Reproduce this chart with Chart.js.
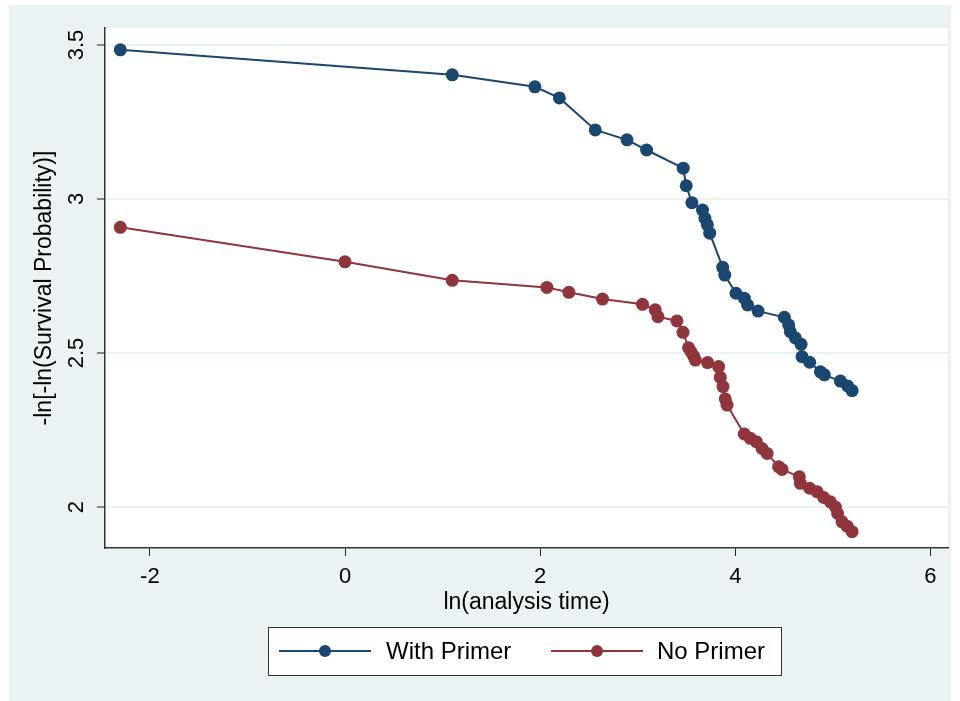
<!DOCTYPE html>
<html>
<head>
<meta charset="utf-8">
<script src="https://cdn.jsdelivr.net/npm/chart.js@4"></script>
<style>
  html, body { margin: 0; padding: 0; background: #fff; }
  #wrap { width: 960px; height: 701px; }
</style>
</head>
<body>
<div id="wrap"><canvas id="chart" width="960" height="701"></canvas></div>
<script>
// ln(analysis time) vs -ln[-ln(S)]
const primerX = [-2.303, 1.099, 1.946, 2.197, 2.565, 2.890, 3.091, 3.466, 3.497, 3.555,
                 3.664, 3.689, 3.714, 3.738, 3.871, 3.892, 4.007, 4.092, 4.126, 4.233,
                 4.503, 4.547, 4.564, 4.615, 4.674, 4.684, 4.762, 4.872, 4.913, 5.077,
                 5.151, 5.197];
const primerY = [3.484, 3.403, 3.364, 3.328, 3.224, 3.192, 3.159, 3.100, 3.043, 2.988,
                 2.964, 2.937, 2.916, 2.889, 2.778, 2.753, 2.694, 2.678, 2.656, 2.636,
                 2.616, 2.591, 2.569, 2.549, 2.528, 2.488, 2.470, 2.439, 2.429, 2.409,
                 2.393, 2.378];

const noPrimerX = [-2.303, 0.000, 1.099, 2.069, 2.294, 2.639, 3.049, 3.179, 3.207, 3.402,
                   3.464, 3.521, 3.546, 3.572, 3.590, 3.716, 3.829, 3.846, 3.874, 3.897,
                   3.915, 4.092, 4.154, 4.215, 4.274, 4.326, 4.444, 4.479, 4.656, 4.667,
                   4.762, 4.838, 4.906, 4.974, 5.026, 5.049, 5.094, 5.146, 5.197];
const noPrimerY = [2.908, 2.796, 2.736, 2.713, 2.697, 2.675, 2.658, 2.640, 2.618, 2.604,
                   2.567, 2.517, 2.504, 2.490, 2.477, 2.469, 2.456, 2.421, 2.391, 2.351,
                   2.331, 2.237, 2.223, 2.212, 2.190, 2.174, 2.131, 2.122, 2.098, 2.077,
                   2.061, 2.050, 2.031, 2.017, 2.000, 1.979, 1.952, 1.938, 1.920];

const seriesLabels = ['With Primer', 'No Primer'];
const xTickValues = [-2, 0, 2, 4, 6];
const yTickValues = [2, 2.5, 3, 3.5];

const FONT = '"Liberation Sans", Arial, Helvetica, sans-serif';
const BLUE = '#1A476F';
const RED = '#90353B';

function toPoints(xs, ys) {
    return xs.map((x, i) => ({ x: x, y: ys[i] }));
}

// background: outer band + white plot region
const backgroundPlugin = {
    id: 'stataBackground',
    beforeDraw(chart) {
        const ctx = chart.ctx;
        const a = chart.chartArea;
        ctx.save();
        ctx.fillStyle = '#ffffff';
        ctx.fillRect(0, 0, chart.width, chart.height);
        ctx.fillStyle = '#EAF2F3';
        ctx.fillRect(9, 5, chart.width - 18, chart.height - 5);
        ctx.fillStyle = '#ffffff';
        ctx.fillRect(a.left, a.top, a.right - a.left, a.bottom - a.top);
        ctx.restore();
    }
};

// rotated y tick labels + boxed legend
const extrasPlugin = {
    id: 'stataExtras',
    afterDraw(chart) {
        const ctx = chart.ctx;
        const yScale = chart.scales.y;
        ctx.save();
        ctx.fillStyle = '#000';
        ctx.font = '22px ' + FONT;
        ctx.textAlign = 'center';
        ctx.textBaseline = 'middle';
        yScale.ticks.forEach(t => {
            const py = yScale.getPixelForValue(t.value);
            ctx.save();
            ctx.translate(77, py);
            ctx.rotate(-Math.PI / 2);
            ctx.fillText(String(t.value), 0, 0);
            ctx.restore();
        });

        // legend box
        const box = { left: 268, top: 627, right: 781, bottom: 675 };
        ctx.fillStyle = '#fff';
        ctx.fillRect(box.left, box.top, box.right - box.left, box.bottom - box.top);
        ctx.strokeStyle = '#333';
        ctx.lineWidth = 1;
        ctx.strokeRect(box.left + 0.5, box.top + 0.5, box.right - box.left, box.bottom - box.top);

        const cy = 651;
        const items = [
            { x0: 279, x1: 371, text: 386 },
            { x0: 551, x1: 643, text: 657 }
        ];
        chart.data.datasets.forEach((ds, i) => {
            const it = items[i];
            ctx.strokeStyle = ds.borderColor;
            ctx.lineWidth = 2;
            ctx.beginPath();
            ctx.moveTo(it.x0, cy);
            ctx.lineTo(it.x1, cy);
            ctx.stroke();
            ctx.fillStyle = ds.borderColor;
            ctx.beginPath();
            ctx.arc((it.x0 + it.x1) / 2, cy, 6, 0, Math.PI * 2);
            ctx.fill();
            ctx.fillStyle = '#000';
            ctx.font = '24px ' + FONT;
            ctx.textAlign = 'left';
            ctx.textBaseline = 'middle';
            ctx.fillText(ds.label, it.text, cy + 1);
        });
        ctx.restore();
    }
};

new Chart(document.getElementById('chart'), {
    type: 'line',
    data: {
        datasets: [
            {
                label: seriesLabels[0],
                data: toPoints(primerX, primerY),
                borderColor: BLUE,
                backgroundColor: BLUE,
                pointBackgroundColor: BLUE,
                pointBorderWidth: 0,
                pointRadius: 6.5,
                borderWidth: 2,
                tension: 0
            },
            {
                label: seriesLabels[1],
                data: toPoints(noPrimerX, noPrimerY),
                borderColor: RED,
                backgroundColor: RED,
                pointBackgroundColor: RED,
                pointBorderWidth: 0,
                pointRadius: 6.5,
                borderWidth: 2,
                tension: 0
            }
        ]
    },
    options: {
        responsive: false,
        animation: false,
        layout: { padding: { top: 28, right: 12, bottom: 81, left: 0 } },
        plugins: {
            legend: { display: false },
            tooltip: { enabled: false }
        },
        scales: {
            x: {
                type: 'linear',
                min: -2.46,
                max: 6.18,
                afterBuildTicks(scale) {
                    scale.ticks = xTickValues.map(v => ({ value: v }));
                },
                afterFit(scale) { scale.height = 72; },
                grid: {
                    drawOnChartArea: false,
                    drawTicks: true,
                    tickLength: 8,
                    tickColor: '#222',
                    tickWidth: 1
                },
                border: { color: '#333', width: 1.5 },
                ticks: {
                    color: '#000',
                    font: { family: FONT, size: 22 },
                    padding: 8,
                    maxRotation: 0,
                    callback: v => String(v)
                },
                title: {
                    display: true,
                    text: 'ln(analysis time)',
                    color: '#000',
                    font: { family: FONT, size: 23 },
                    padding: { top: 0, bottom: 4 }
                }
            },
            y: {
                type: 'linear',
                min: 1.867,
                max: 3.555,
                afterBuildTicks(scale) {
                    scale.ticks = yTickValues.map(v => ({ value: v }));
                },
                afterFit(scale) { scale.width = 105; },
                grid: {
                    color: '#EAF2F3',
                    lineWidth: 2,
                    drawTicks: true,
                    tickLength: 8,
                    tickColor: '#222',
                    tickWidth: 1
                },
                border: { color: '#333', width: 1.5 },
                ticks: { display: false },
                title: {
                    display: true,
                    text: '-ln[-ln(Survival Probability)]',
                    color: '#000',
                    font: { family: FONT, size: 23 },
                    padding: { top: 31, bottom: 0 }
                }
            }
        }
    },
    plugins: [backgroundPlugin, extrasPlugin]
});
</script>
</body>
</html>
